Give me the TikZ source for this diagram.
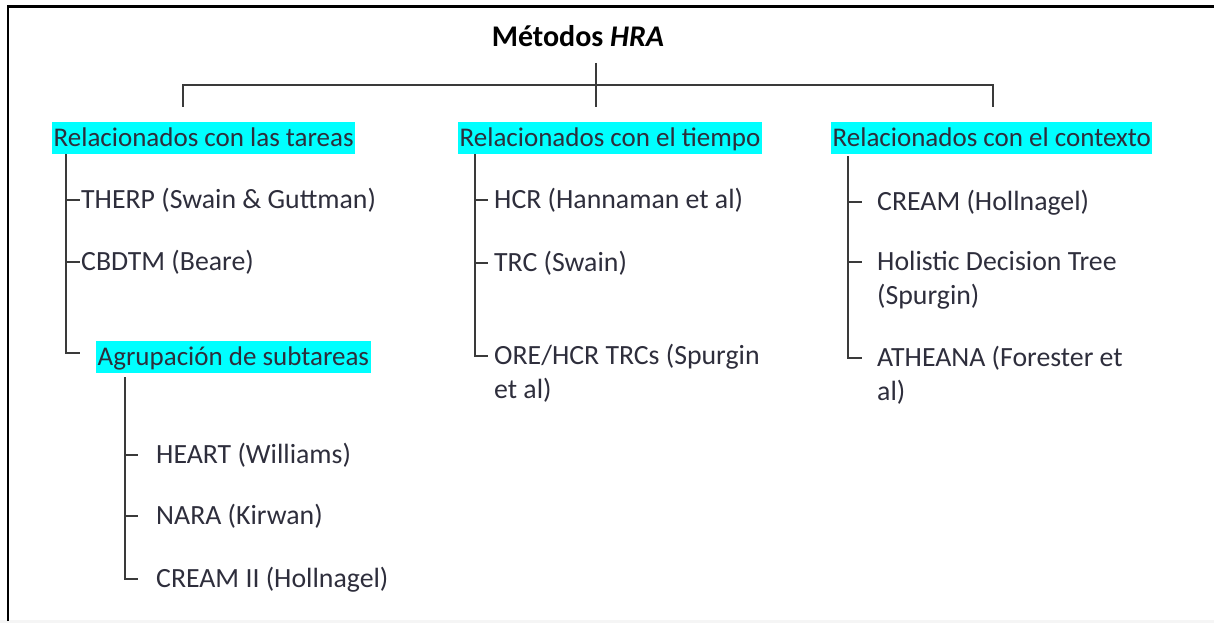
\documentclass[tikz,border=0pt]{standalone}
\usepackage{fontspec}
\setmainfont{Carlito}
\usetikzlibrary{positioning}

\definecolor{txt}{HTML}{2E2E3C}
\definecolor{lncol}{HTML}{3A3A3A}
\definecolor{mark}{HTML}{00FFFF}
\newcommand\headfont{\fontsize{27}{34}\selectfont}
\newcommand\itemfont{\fontsize{27.8}{34}\selectfont}

\tikzset{
  ln/.style={draw=lncol, line width=1.6pt},
  head/.style={fill=mark, anchor=west, inner xsep=1.5pt, inner ysep=2.5pt,
    text height=22pt, text depth=5pt, font=\headfont, text=txt},
  item/.style={anchor=north west, inner sep=0pt, align=left, font=\itemfont, text=txt}
}

\begin{document}
\begin{tikzpicture}[x=1pt,y=-1pt]
  \useasboundingbox (0,0) rectangle (1214,623);
  % frame
  \fill[black!4] (0,620) rectangle (1214,623);
  \draw[line width=2.5pt] (8,621) -- (8,6.5) -- (1214,6.5);

  % title
  \node[anchor=base, font=\fontsize{30}{36}\selectfont\bfseries] (title) at (578,47) {Métodos \textit{HRA}};
  \coordinate (top) at (596,63);
  \coordinate (dm) at (596,107);
  \coordinate (dl) at (183,107);
  \coordinate (dr) at (993,107);
  \coordinate (bar) at (596,85);
  \draw[ln] (top) -- (dm);
  \draw[ln] (dl) -- (dl |- bar) -- (dr |- bar) -- (dr);

  % headings
  \node[head] (tareas) at (52,138) {Relacionados con las tareas};
  \node[head] (tiempo) at (458,138) {Relacionados con el tiempo};
  \node[head] (contexto) at (831,138) {Relacionados con el contexto};

  % tareas
  \node[item] (therp) at (81,184) {\strut THERP (Swain \& Guttman)};
  \node[item] (cbdtm) at (81,246) {\strut CBDTM (Beare)};
  \node[head] (agrup) at (96,357) {Agrupación de subtareas};
  \coordinate (c1) at ([xshift=14pt]tareas.south west);
  \coordinate (therp-t) at ([xshift=-1pt,yshift=-16pt]therp.north west);
  \coordinate (cbdtm-t) at ([xshift=-1pt,yshift=-16pt]cbdtm.north west);
  \coordinate (agrup-t) at ([xshift=-16pt,yshift=4pt]agrup.west);
  \draw[ln] (c1) |- (agrup-t);
  \draw[ln] (c1 |- therp-t) -- (therp-t);
  \draw[ln] (c1 |- cbdtm-t) -- (cbdtm-t);

  % subtareas
  \node[item] (heart) at (156,439) {\strut HEART (Williams)};
  \node[item] (nara) at (156,500) {\strut NARA (Kirwan)};
  \node[item] (cream2) at (156,563) {\strut CREAM II (Hollnagel)};
  \coordinate (c4) at ([xshift=29pt,yshift=-4pt]agrup.south west);
  \coordinate (heart-t) at ([xshift=-18pt,yshift=-16pt]heart.north west);
  \coordinate (nara-t) at ([xshift=-18pt,yshift=-16pt]nara.north west);
  \coordinate (cream2-t) at ([xshift=-18pt,yshift=-16pt]cream2.north west);
  \draw[ln] (c4) |- (cream2-t);
  \draw[ln] (c4 |- heart-t) -- (heart-t);
  \draw[ln] (c4 |- nara-t) -- (nara-t);

  % tiempo
  \node[item] (hcr) at (494,184) {\strut HCR (Hannaman et al)};
  \node[item] (trc) at (494,247) {\strut TRC (Swain)};
  \node[item] (ore) at (494,340) {\strut ORE/HCR TRCs (Spurgin\\\strut et al)};
  \coordinate (c2) at ([xshift=17pt]tiempo.south west);
  \coordinate (hcr-t) at ([xshift=-6pt,yshift=-16pt]hcr.north west);
  \coordinate (trc-t) at ([xshift=-6pt,yshift=-16pt]trc.north west);
  \coordinate (ore-t) at ([xshift=-6pt,yshift=-16pt]ore.north west);
  \draw[ln] (c2) |- (ore-t);
  \draw[ln] (c2 |- hcr-t) -- (hcr-t);
  \draw[ln] (c2 |- trc-t) -- (trc-t);

  % contexto
  \node[item] (cream) at (877,186) {\strut CREAM (Hollnagel)};
  \node[item] (hdt) at (877,246) {\strut Holistic Decision Tree\\\strut (Spurgin)};
  \node[item] (athe) at (877,342) {\strut ATHEANA (Forester et\\\strut al)};
  \coordinate (c3) at ([xshift=17pt,yshift=-2pt]contexto.south west);
  \coordinate (cream-t) at ([xshift=-15pt,yshift=-16pt]cream.north west);
  \coordinate (hdt-t) at ([xshift=-15pt,yshift=-16pt]hdt.north west);
  \coordinate (athe-t) at ([xshift=-15pt,yshift=-16pt]athe.north west);
  \draw[ln] (c3) |- (athe-t);
  \draw[ln] (c3 |- cream-t) -- (cream-t);
  \draw[ln] (c3 |- hdt-t) -- (hdt-t);
\end{tikzpicture}
\end{document}
